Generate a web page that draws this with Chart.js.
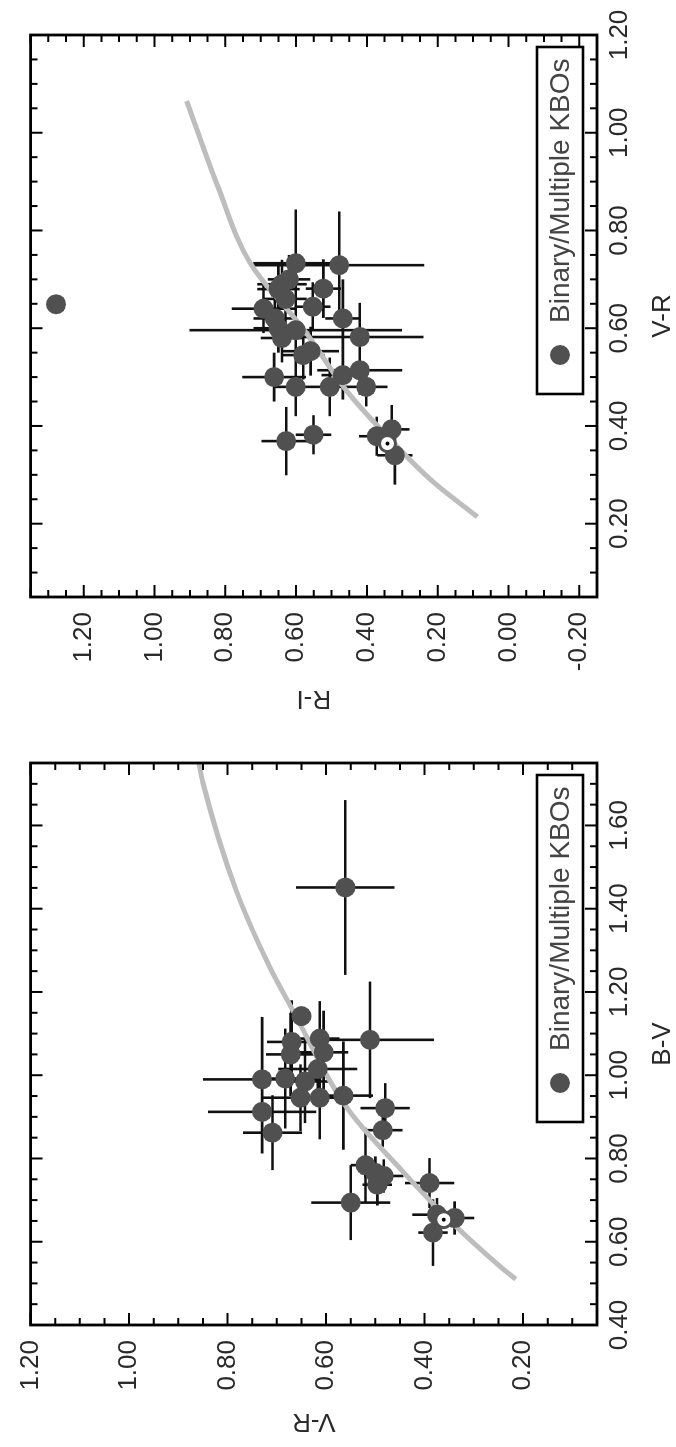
<!DOCTYPE html>
<html>
<head>
<meta charset="utf-8">
<script src="https://cdn.jsdelivr.net/npm/chart.js@4.4.1/dist/chart.umd.min.js"></script>
<style>
  html, body { margin: 0; padding: 0; background: #fff; overflow: hidden; }
  /* the two panels are laid out side by side and the whole figure is turned a quarter turn */
  #page { position: absolute; left: 0; top: 0; width: 1447px; height: 676px;
          transform-origin: 0 0; transform: translateY(1447px) rotate(-90deg); background: #fff; }
  #c1 { position: absolute; left: 0; top: 0; }
  #c2 { position: absolute; left: 723px; top: 0; }
</style>
</head>
<body>
<div id="page">
  <canvas id="c1" width="723" height="676"></canvas>
  <canvas id="c2" width="724" height="676"></canvas>
</div>
<script>
// ---------- panel 1: B-V vs V-R ----------
const bvValues   = [1.451, 1.142, 1.085, 1.088, 1.080, 1.050, 1.055, 0.990, 0.992, 0.985, 1.015, 0.946, 0.946, 0.951, 0.921, 0.912, 0.862, 0.868, 0.784, 0.765, 0.758, 0.737, 0.741, 0.694, 0.622, 0.657, 0.665];
const vr1Values  = [0.561, 0.650, 0.511, 0.613, 0.670, 0.672, 0.605, 0.730, 0.683, 0.643, 0.617, 0.652, 0.613, 0.565, 0.480, 0.730, 0.709, 0.485, 0.520, 0.500, 0.483, 0.496, 0.390, 0.550, 0.383, 0.339, 0.375];
const bvErr      = [0.21, 0, 0.14, 0.09, 0.10, 0.10, 0.10, 0.15, 0.12, 0.10, 0.09, 0.08, 0.10, 0.13, 0.06, 0.10, 0.09, 0.04, 0.09, 0.04, 0.04, 0.05, 0.06, 0.09, 0.08, 0.04, 0.04];
const vr1Err     = [0.10, 0, 0.13, 0.04, 0.05, 0.05, 0.05, 0.12, 0.05, 0.05, 0.08, 0.08, 0.05, 0.06, 0.05, 0.11, 0.06, 0.04, 0.03, 0.03, 0.04, 0.03, 0.05, 0.08, 0.03, 0.04, 0.05];
const curve1BV   = [0.510, 0.540, 0.652, 0.772, 0.916, 1.157, 1.261, 1.445, 1.702, 1.760];
const curve1VR   = [0.215, 0.246, 0.350, 0.447, 0.554, 0.668, 0.715, 0.783, 0.850, 0.860];
const sunBV = [0.653], sunVR1 = [0.361];
const bvTicks    = [0.40, 0.60, 0.80, 1.00, 1.20, 1.40, 1.60];
const vrTicks    = [0.20, 0.40, 0.60, 0.80, 1.00, 1.20];

// ---------- panel 2: V-R vs R-I ----------
const vr2Values  = [0.649, 0.733, 0.729, 0.681, 0.640, 0.690, 0.644, 0.620, 0.582, 0.600, 0.596, 0.553, 0.500, 0.480, 0.480, 0.504, 0.514, 0.480, 0.369, 0.382, 0.379, 0.393, 0.340, 0.680, 0.700, 0.660, 0.580, 0.620, 0.545];
const riValues   = [1.278, 0.601, 0.478, 0.523, 0.692, 0.640, 0.553, 0.468, 0.420, 0.650, 0.601, 0.559, 0.662, 0.601, 0.505, 0.468, 0.420, 0.402, 0.628, 0.551, 0.372, 0.330, 0.321, 0.650, 0.620, 0.630, 0.640, 0.660, 0.580];
const vr2Err     = [0, 0.11, 0.11, 0.06, 0.05, 0.05, 0.05, 0.08, 0.07, 0.05, 0.15, 0.05, 0.05, 0.06, 0.06, 0.05, 0.05, 0.04, 0.07, 0.04, 0.04, 0.05, 0.06, 0.05, 0.05, 0.05, 0.05, 0.05, 0.05];
const riErr      = [0, 0.12, 0.24, 0.05, 0.09, 0.07, 0.05, 0.05, 0.18, 0.07, 0.30, 0.08, 0.09, 0.06, 0.07, 0.06, 0.12, 0.06, 0.07, 0.05, 0.05, 0.05, 0.05, 0.06, 0.06, 0.06, 0.06, 0.06, 0.06];
const curve2VR   = [0.214, 0.287, 0.374, 0.471, 0.596, 0.731, 0.886, 1.065];
const curve2RI   = [0.088, 0.215, 0.336, 0.456, 0.577, 0.728, 0.819, 0.909];
const sunVR2 = [0.364], sunRI = [0.342];
const riTicks    = [1.20, 1.00, 0.80, 0.60, 0.40, 0.20, 0.00, -0.20];

const legendLabel = 'Binary/Multiple KBOs';

const FONT = 'Liberation Sans, Arial, Helvetica, sans-serif';
const INK = '#2a2a2a';
const DOT = '#505050';

const pts = (xs, ys) => xs.map((v, i) => ({ x: v, y: ys[i] }));

// error bars through the chart's own scales
const errorBars = {
  id: 'errorBars',
  beforeDatasetsDraw(chart) {
    const { ctx, chartArea: a, scales: { x, y } } = chart;
    const ds = chart.data.datasets.find(d => d.errX);
    if (!ds) return;
    ctx.save();
    ctx.beginPath();
    ctx.rect(a.left, a.top, a.right - a.left, a.bottom - a.top);
    ctx.clip();
    ctx.strokeStyle = '#111';
    ctx.lineWidth = 2.6;
    ctx.beginPath();
    ds.data.forEach((p, i) => {
      const px = x.getPixelForValue(p.x), py = y.getPixelForValue(p.y);
      const ex = ds.errX[i], ey = ds.errY[i];
      if (ex) { ctx.moveTo(x.getPixelForValue(p.x - ex), py); ctx.lineTo(x.getPixelForValue(p.x + ex), py); }
      if (ey) { ctx.moveTo(px, y.getPixelForValue(p.y - ey)); ctx.lineTo(px, y.getPixelForValue(p.y + ey)); }
    });
    ctx.stroke();
    ctx.restore();
  }
};

// closed frame with inward major/minor ticks on all four sides
const frameTicks = {
  id: 'frameTicks',
  afterDatasetsDraw(chart) {
    const { ctx, chartArea: a, scales: { x, y } } = chart;
    const step = 0.05;
    ctx.save();
    ctx.strokeStyle = '#000';
    ctx.lineWidth = 2;
    ctx.beginPath();
    for (let k = Math.ceil(x.min / step - 1e-6); k <= Math.floor(x.max / step + 1e-6); k++) {
      const len = (k % 4 === 0) ? 12 : 7;
      const px = x.getPixelForValue(k * step);
      ctx.moveTo(px, a.bottom); ctx.lineTo(px, a.bottom - len);
      ctx.moveTo(px, a.top); ctx.lineTo(px, a.top + len);
    }
    for (let k = Math.ceil(y.min / step - 1e-6); k <= Math.floor(y.max / step + 1e-6); k++) {
      const len = (k % 4 === 0) ? 12 : 7;
      const py = y.getPixelForValue(k * step);
      ctx.moveTo(a.left, py); ctx.lineTo(a.left + len, py);
      ctx.moveTo(a.right, py); ctx.lineTo(a.right - len, py);
    }
    ctx.stroke();
    ctx.lineWidth = 2.8;
    ctx.strokeRect(a.left, a.top, a.right - a.left, a.bottom - a.top);
    ctx.restore();
  }
};

// boxed legend in the lower right corner of the plot area
const legendBox = {
  id: 'legendBox',
  afterDraw(chart) {
    const { ctx, chartArea: a } = chart;
    const ds = chart.data.datasets.find(d => d.errX);
    const w = 347, h = 46;
    const x0 = a.right - 12 - w, y0 = a.bottom - 14 - h;
    ctx.save();
    ctx.fillStyle = '#fff';
    ctx.fillRect(x0, y0, w, h);
    ctx.strokeStyle = '#000';
    ctx.lineWidth = 2.6;
    ctx.strokeRect(x0, y0, w, h);
    ctx.fillStyle = ds.backgroundColor;
    ctx.beginPath();
    ctx.arc(x0 + 39, y0 + h / 2, 10, 0, Math.PI * 2);
    ctx.fill();
    ctx.fillStyle = '#444';
    ctx.font = '28px ' + FONT;
    ctx.textBaseline = 'middle';
    ctx.textAlign = 'left';
    ctx.fillText(ds.label, x0 + 71, y0 + h / 2 + 1);
    ctx.restore();
  }
};

function axis(opts) {
  return {
    type: 'linear',
    position: opts.position,
    min: opts.min,
    max: opts.max,
    afterBuildTicks: s => { s.ticks = opts.ticks.map(v => ({ value: v })); },
    afterFit: s => { if (opts.position === 'left') s.width = opts.size; else s.height = opts.size; },
    grid: { display: false, drawTicks: false },
    border: { display: false },
    ticks: {
      autoSkip: false, maxRotation: 0, minRotation: 0,
      padding: opts.position === 'left' ? 15 : 7,
      color: INK,
      font: { family: FONT, size: 26 },
      callback: v => Number(v).toFixed(2)
    },
    title: {
      display: true, text: opts.title, color: INK,
      font: { family: FONT, size: 26, lineHeight: 1 },
      padding: opts.position === 'left' ? { top: 13, bottom: 0 } : { top: 0, bottom: 0 }
    }
  };
}

function makeChart(canvasId, cfg) {
  return new Chart(document.getElementById(canvasId), {
    type: 'scatter',
    data: {
      datasets: [
        {
          label: legendLabel,
          data: pts(cfg.xs, cfg.ys),
          errX: cfg.ex, errY: cfg.ey,
          backgroundColor: DOT, borderWidth: 0,
          pointRadius: 10, pointHoverRadius: 10, order: 2
        },
        {
          label: 'curve',
          type: 'line',
          data: pts(cfg.cx, cfg.cy),
          borderColor: '#bdbdbd', borderWidth: 5, pointRadius: 0,
          tension: 0.4, cubicInterpolationMode: 'monotone', fill: false, order: 3
        },
        {
          label: 'Sun',
          data: pts(cfg.sx, cfg.sy),
          backgroundColor: '#fff', borderColor: DOT, borderWidth: 3,
          pointRadius: 8, order: 1
        },
        {
          label: 'Sun centre',
          data: pts(cfg.sx, cfg.sy),
          backgroundColor: '#000', borderWidth: 0,
          pointRadius: 2, order: 0
        }
      ]
    },
    options: {
      responsive: false,
      animation: false,
      events: [],
      layout: { padding: { left: 0, right: cfg.padRight, top: 26, bottom: 0 } },
      plugins: { legend: { display: false }, tooltip: { enabled: false }, title: { display: false } },
      scales: {
        x: axis({ position: 'bottom', min: cfg.xmin, max: cfg.xmax, ticks: cfg.xticks, title: cfg.xtitle, size: 79 }),
        y: axis({ position: 'left', min: cfg.ymin, max: cfg.ymax, ticks: cfg.yticks, title: cfg.ytitle, size: cfg.yWidth })
      }
    },
    plugins: [errorBars, frameTicks, legendBox]
  });
}

makeChart('c1', {
  xs: bvValues, ys: vr1Values, ex: bvErr, ey: vr1Err,
  cx: curve1BV, cy: curve1VR, sx: sunBV, sy: sunVR1,
  xmin: 0.40, xmax: 1.75, ymin: 0.05, ymax: 1.20,
  xticks: bvTicks, yticks: vrTicks, xtitle: 'B-V', ytitle: 'V-R',
  yWidth: 122, padRight: 39
});

makeChart('c2', {
  xs: vr2Values, ys: riValues, ex: vr2Err, ey: riErr,
  cx: curve2VR, cy: curve2RI, sx: sunVR2, sy: sunRI,
  xmin: 0.05, xmax: 1.20, ymin: -0.25, ymax: 1.35,
  xticks: vrTicks, yticks: riTicks, xtitle: 'V-R', ytitle: 'R-I',
  yWidth: 127, padRight: 35
});
</script>
</body>
</html>
